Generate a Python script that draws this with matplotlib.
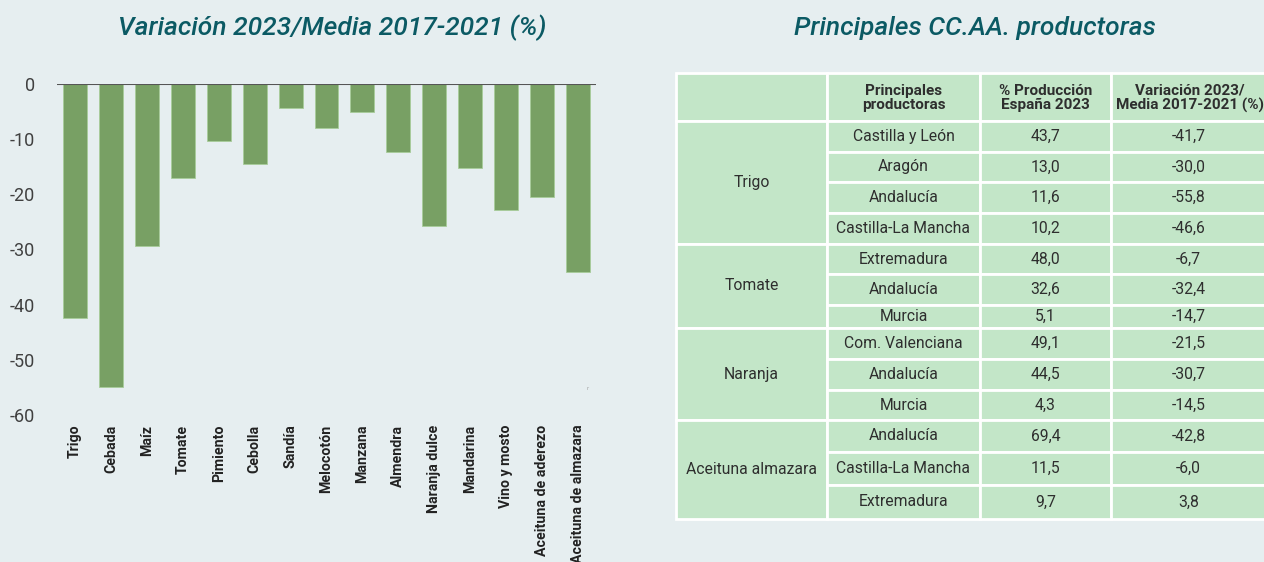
import matplotlib
matplotlib.use("Agg")
import matplotlib.pyplot as plt
from matplotlib.patches import Rectangle

# ---------------- data ----------------
categories = ["Trigo", "Cebada", "Maíz", "Tomate", "Pimiento", "Cebolla", "Sandía",
              "Melocotón", "Manzana", "Almendra", "Naranja dulce", "Mandarina",
              "Vino y mosto", "Aceituna de aderezo", "Aceituna de almazara"]
variacion = [-42.5, -54.9, -29.3, -17.1, -10.4, -14.5, -4.3, -7.9, -5.1, -12.3,
             -25.8, -15.3, -22.9, -20.5, -34.1]
yticks = [0, -10, -20, -30, -40, -50, -60]

header = ["", "Principales\nproductoras", "% Producción\nEspaña 2023",
          "Variación 2023/\nMedia 2017-2021 (%)"]
groups = ["Trigo", "Tomate", "Naranja", "Aceituna almazara"]
group_sizes = [4, 3, 3, 3]
regions = ["Castilla y León", "Aragón", "Andalucía", "Castilla-La Mancha",
           "Extremadura", "Andalucía", "Murcia",
           "Com. Valenciana", "Andalucía", "Murcia",
           "Andalucía", "Castilla-La Mancha", "Extremadura"]
produccion = [43.7, 13.0, 11.6, 10.2, 48.0, 32.6, 5.1, 49.1, 44.5, 4.3, 69.4, 11.5, 9.7]
variacion_reg = [-41.7, -30.0, -55.8, -46.6, -6.7, -32.4, -14.7, -21.5, -30.7, -14.5,
                 -42.8, -6.0, 3.8]

# ---------------- style ----------------
BG = "#e6eef0"
BAR = "#78a064"
CELL = "#c3e6c8"
TITLE = "#0b5a64"
TXT = "#2e2e2e"

W, H = 1264, 562
fig = plt.figure(figsize=(W / 100, H / 100), dpi=100, facecolor=BG)

# ---------------- bar chart ----------------
ax = fig.add_axes([57 / W, 1 - 415 / H, (596 - 57) / W, (415 - 84) / H])
ax.set_facecolor(BG)
x = list(range(len(categories)))
ax.bar(x, variacion, width=0.667, color=BAR, edgecolor="#a8cc9a", linewidth=0.6, zorder=2)
ax.axhline(0, color="#555555", linewidth=1.5, zorder=3)
ax.set_xlim(-0.5, 14.5)
ax.set_ylim(-60, 0)
ax.set_yticks(yticks)
ax.set_yticklabels([str(t) for t in yticks], fontsize=13, color="#404040", family="Roboto")
ax.set_xticks(x)
ax.set_xticklabels(categories, rotation=90, fontsize=10.2, fontweight="bold",
                   color="#222222", family="Roboto", va="top", ha="center")
ax.tick_params(axis="y", length=0, pad=16)
ax.tick_params(axis="x", length=0, pad=7)
for s in ax.spines.values():
    s.set_visible(False)

fig.text(332 / W, 1 - 28 / H, "Variación 2023/Media 2017-2021 (%)", ha="center", va="center",
         fontsize=19, fontstyle="italic", fontweight="medium", color=TITLE, family="Roboto")
fig.text(975 / W, 1 - 28 / H, "Principales CC.AA. productoras", ha="center", va="center",
         fontsize=19, fontstyle="italic", fontweight="medium", color=TITLE, family="Roboto")
fig.text(588 / W, 1 - 389 / H, "r", ha="center", va="center", fontsize=3.5, color="#9a9a9a")

# ---------------- table ----------------
tx = fig.add_axes([0, 0, 1, 1])
tx.set_xlim(0, W)
tx.set_ylim(H, 0)
tx.axis("off")
tx.patch.set_alpha(0)

col_edges = [676, 827, 980, 1111, 1272]
header_top, header_bot = 73, 121
row_edges = [121, 152, 182, 213, 244, 274, 305, 328, 359, 390, 420, 452, 485, 519]
lw = 2.0


def cell(x0, x1, y0, y1):
    tx.add_patch(Rectangle((x0, y0), x1 - x0, y1 - y0, facecolor=CELL,
                           edgecolor="white", linewidth=lw, zorder=1))


def fmt(v):
    return f"{v:.1f}".replace(".", ",")


# header
for c in range(4):
    cell(col_edges[c], col_edges[c + 1], header_top, header_bot)
    if header[c]:
        tx.text((col_edges[c] + col_edges[c + 1]) / 2 + (-2 if c == 3 else 0),
                (header_top + header_bot) / 2 + 1,
                header[c], ha="center", va="center", fontsize=11, fontweight="bold",
                color=TXT, family="Roboto", linespacing=1.05, zorder=3)

# body
r = 0
for g, n in zip(groups, group_sizes):
    y0, y1 = row_edges[r], row_edges[r + n]
    cell(col_edges[0], col_edges[1], y0, y1)
    tx.text((col_edges[0] + col_edges[1]) / 2, (y0 + y1) / 2, g, ha="center", va="center",
            fontsize=11.3, color=TXT, family="Roboto", zorder=3)
    for k in range(n):
        i = r + k
        a, b = row_edges[i], row_edges[i + 1]
        vals = [regions[i], fmt(produccion[i]), fmt(variacion_reg[i])]
        for c in range(1, 4):
            cell(col_edges[c], col_edges[c + 1], a, b)
            tx.text((col_edges[c] + col_edges[c + 1]) / 2 + (-3 if c == 3 else 0),
                    (a + b) / 2, vals[c - 1],
                    ha="center", va="center", fontsize=11.3, color=TXT, family="Roboto",
                    zorder=3)
    r += n

fig.savefig("out.png", dpi=100, facecolor=BG)
